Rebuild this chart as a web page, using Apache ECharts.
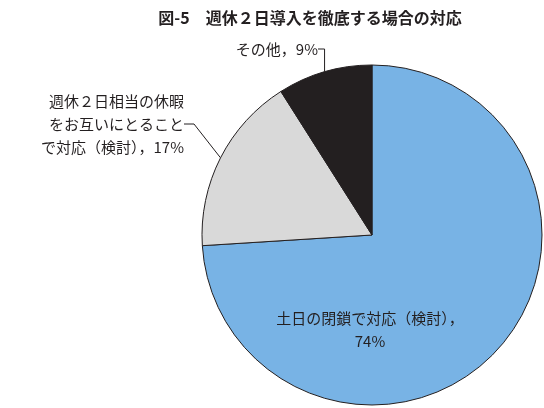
<!DOCTYPE html><html><head><meta charset="utf-8"><script src="https://cdn.jsdelivr.net/npm/echarts@6/dist/echarts.min.js"></script></head><body style="margin:0"><div id="c" style="width:544px;height:408px"></div><script>
const categories=['土日の閉鎖で対応（検討）','週休２日相当の休暇\nをお互いにとること\nで対応（検討）','その他'];
const values=[74,17,9];
const colors=['#78b3e5','#d9d9d9','#231f20'];
const chart=echarts.init(document.getElementById('c'));
const F='"Noto Sans CJK JP"';
chart.setOption({
title:{text:'図-5　週休２日導入を徹底する場合の対応',left:305,textAlign:'center',top:5,textStyle:{fontFamily:F,fontSize:16,fontWeight:'bold',color:'#231f20'}},
series:[{type:'pie',center:[372,235],radius:170,startAngle:90,clockwise:true,animation:false,
itemStyle:{borderColor:'#231f20',borderWidth:1},
labelLine:{show:true,length:8,length2:10,lineStyle:{color:'#231f20',width:1}},
data:categories.map((n,i)=>({name:n,value:values[i],itemStyle:{color:colors[i]},
label:i===0?{position:'inside',formatter:'{b}，\n{c}%',align:'center'}:{position:'outside',formatter:i===1?'{b}，{c}%':'{b}，{c}%'},
labelLine:{show:i!==0}})),
label:{fontFamily:F,fontSize:15,color:'#231f20',lineHeight:23},
labelLayout:function(p){
 if(p.dataIndex===0) return {x:370,y:330,align:'center',verticalAlign:'middle'};
 if(p.dataIndex===1) return {x:184,y:124,align:'right',verticalAlign:'middle'};
 return {x:318,y:49,align:'right',verticalAlign:'middle'};
}}]
});
</script></body></html>
